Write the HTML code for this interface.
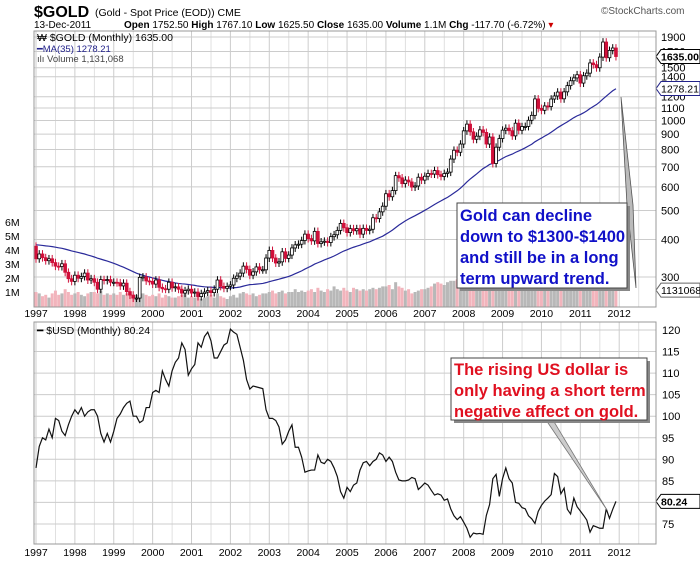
<!DOCTYPE html>
<html><head><meta charset="utf-8"><style>
body{margin:0;background:#fff;font-family:"Liberation Sans",sans-serif}
svg text{font-family:"Liberation Sans",sans-serif}
</style></head><body>
<svg id="c" width="700" height="561" viewBox="0 0 700 561">
<rect width="700" height="561" fill="#fff"/>
<g>
<text x="34" y="17" font-size="16" font-weight="bold">$GOLD</text>
<text x="95" y="16" font-size="10.5">(Gold - Spot Price (EOD)) CME</text>
<text x="601" y="14" font-size="10" fill="#555">©StockCharts.com</text>
<text x="34" y="28" font-size="10">13-Dec-2011</text>
<text x="124" y="28" font-size="10"><tspan font-weight="bold">Open</tspan> 1752.50 <tspan font-weight="bold">High</tspan> 1767.10 <tspan font-weight="bold">Low</tspan> 1625.50 <tspan font-weight="bold">Close</tspan> 1635.00 <tspan font-weight="bold">Volume</tspan> 1.1M <tspan font-weight="bold">Chg</tspan> -117.70 (-6.72%) <tspan fill="#c00">▾</tspan></text>
</g>
<g id="grid"></g>
<g id="marks"></g>
<rect x="34" y="31" width="622" height="276" fill="none" stroke="#999"/>
<rect x="34" y="322" width="622" height="222" fill="none" stroke="#999"/>
<g>
<text x="37" y="41" font-size="10.5">₩ $GOLD (Monthly) 1635.00</text>
<text x="37" y="52" font-size="9.5" fill="#22228a">━MA(35) 1278.21</text>
<text x="37" y="62" font-size="9.5" fill="#444">ılı Volume 1,131,068</text>
</g>
<text x="37" y="334" font-size="10.5">━ $USD (Monthly) 80.24</text>
<g>
<polygon points="621,97 627,205 636,288 633,205" fill="#bbb" stroke="#555" stroke-width="0.8"/>
<rect x="460" y="206" width="170" height="85" fill="#888"/>
<rect x="457" y="203" width="170" height="85" fill="#fff" stroke="#444"/>
<text font-size="16.5" font-weight="bold" fill="#1010c8"><tspan x="460" y="221">Gold can decline</tspan><tspan x="460" y="242">down to $1300-$1400</tspan><tspan x="460" y="263">and still be in a long</tspan><tspan x="460" y="284">term upward trend.</tspan></text>
</g>
<g>
<polygon points="546,420 607,510 553,420" fill="#ccc" stroke="#777" stroke-width="0.8"/>
<rect x="454" y="361" width="196" height="62" fill="#888"/>
<rect x="451" y="358" width="196" height="62" fill="#fff" stroke="#444"/>
<text font-size="16.5" font-weight="bold" fill="#e01020"><tspan x="454" y="375">The rising US dollar is</tspan><tspan x="454" y="396">only having a short term</tspan><tspan x="454" y="417">negative affect on gold.</tspan></text>
</g>
</svg>
<script>
const years=[1997,1998,1999,2000,2001,2002,2003,2004,2005,2006,2007,2008,2009,2010,2011,2012];
const goldTicks=[1900,1700,1500,1400,1200,1100,1000,900,800,700,600,500,400,300];
const usdTicks=[120,115,110,105,100,95,90,85,80,75];
const volTicks=[1,2,3,4,5,6];
const goldPre=[387,383,391,376,377,381,388,385,393,383,384,376,375,377,382,389,385,387,383,383,384,383,387,387,405,401,396,391,391,382,385,387,379,380];
const goldClose=[345,358,348,340,345,335,326,325,332,311,296,290,
304,297,301,309,293,296,288,273,294,292,294,288,
288,287,280,286,268,261,255,255,299,300,291,290,
284,293,277,274,273,288,276,278,273,265,270,273,
265,267,258,264,267,270,266,273,293,279,275,279,
282,297,302,309,326,318,304,312,324,317,317,347,
368,347,334,337,364,346,355,375,384,386,397,417,
403,396,426,388,393,395,391,409,415,429,453,438,
422,435,428,435,417,436,429,433,473,470,495,517,
569,556,583,654,643,615,632,623,599,604,646,632,
651,665,662,680,659,650,665,672,743,795,783,834,
923,972,916,865,886,930,912,834,880,718,814,870,
928,942,924,888,979,927,954,955,1001,1040,1180,1097,
1081,1118,1113,1179,1207,1244,1181,1246,1307,1357,1387,1421,
1333,1410,1439,1556,1536,1500,1628,1828,1620,1714,1746,1635];
const goldVolM=[1.0,0.9,0.7,0.8,0.6,0.9,1.1,0.8,0.9,1.2,1.0,0.8,
0.9,1.0,0.8,0.7,0.9,1.0,1.0,0.9,1.1,0.8,0.9,0.8,
0.9,0.8,1.0,0.8,0.9,1.0,0.7,0.8,1.1,0.9,0.8,0.7,
0.8,0.7,0.9,0.6,0.8,0.7,0.6,0.6,0.7,0.8,0.9,0.6,
0.7,0.6,0.8,0.5,0.6,0.7,0.8,0.6,0.9,0.7,0.6,0.5,
0.7,0.8,0.6,0.9,1.0,0.9,0.8,0.9,0.7,0.8,0.9,0.9,
1.0,1.1,0.9,1.0,1.1,0.9,1.0,1.0,1.2,1.0,1.1,1.0,
1.1,1.2,1.0,1.3,1.1,1.0,1.2,1.1,1.4,1.2,1.1,1.3,
1.1,1.0,1.3,1.2,1.1,1.2,1.1,1.2,1.3,1.2,1.3,1.4,
1.4,1.5,1.2,1.7,1.4,1.3,1.1,1.2,0.9,1.0,1.1,1.2,
1.2,1.3,1.4,1.6,1.7,1.6,1.5,1.7,1.8,1.8,1.9,1.7,
1.8,1.9,1.7,1.6,1.7,1.8,1.7,1.6,1.8,1.7,1.7,1.6,
1.5,1.6,1.5,1.4,1.5,1.6,1.4,1.5,1.5,1.4,1.6,1.5,
1.4,1.5,1.3,1.4,1.6,1.5,1.4,1.5,1.3,1.4,1.5,1.4,
1.3,1.4,1.3,1.5,1.4,1.3,1.4,1.6,1.5,1.4,1.3,1.1];
const usd=[88,93,95,94.5,97,95,99.5,99,96.5,95.5,98,100,
101.5,100.5,102,100,101,101.5,101.5,100,96,94,96,94,
96.5,99.5,100.5,102,103,103.5,100,100,98.5,99,102,102,
105.5,106,105.5,110.5,108.5,107,110.5,112.5,113.5,117,115.5,109.5,
111,112,117,116,118.5,119.5,117.5,113.5,113.5,115,116.5,117,
120.2,119.5,119,116,113,108.5,106.3,107,106.8,106.6,106.4,101.5,
99.5,99.5,99,97.5,93.5,94.5,96.5,98,92.8,92.8,90.5,87,
87.3,87.5,87.5,91,89.3,89,90,89.5,88,86,82.5,81,
83.5,82.5,84,84.5,87.5,89.2,89.5,88.5,89.5,90,91.5,91,
89.5,90.5,89.5,87,85.2,85,85,85.2,85.8,85.5,83,83.7,
84.5,84,82.8,81.7,82,81.7,80.5,80.8,78.5,76.9,76,76.7,
75.4,74,71.9,72.9,72.7,72.8,72.6,77,79.5,85.5,86.5,81.4,
85.5,88,85.5,84.5,80,79.8,78.8,78.5,76.9,76.2,75.1,77.9,
79.3,80.3,81,81.8,86.7,86,82,83.3,78.4,77.3,81,79,
78,77,75.9,73.1,74.6,74.3,74,74,78.5,76.3,78.4,80.24];

const NS='http://www.w3.org/2000/svg';
const X0=36,PX_M=3.24;
function xM(m){return X0+m*PX_M;}
function xY(y){return xM((y-1997)*12);}
function yG(p){return 37+Math.log(1900/p)*130;}
function yU(v){return 330+(120-v)*4.31;}
function yV(v){return 306-v*14;}
const grid=document.getElementById('grid'),marks=document.getElementById('marks');
function mk(tag,at,par){const e=document.createElementNS(NS,tag);for(const k in at)e.setAttribute(k,at[k]);(par||marks).appendChild(e);return e;}

years.forEach(y=>{
  const x=xY(y);
  const l1=mk('line',{x1:x,x2:x,y1:31,y2:307,stroke:'#ccc'},grid);
  
  
  const l2=mk('line',{x1:x,x2:x,y1:322,y2:544,stroke:'#ccc'},grid);
  
  
  const h=x+19.5;
  if(h<656){mk('line',{x1:h,x2:h,y1:31,y2:307,stroke:'#e0e0e0'},grid);mk('line',{x1:h,x2:h,y1:322,y2:544,stroke:'#e0e0e0'},grid);}
  const t1=mk('text',{x:x,y:317,'font-size':10.5,'text-anchor':'middle'},grid);t1.textContent=y;
  
  
  const t2=mk('text',{x:x,y:556,'font-size':10.5,'text-anchor':'middle'},grid);t2.textContent=y;
  
  
});
goldTicks.forEach(p=>{
  const y=yG(p);
  mk('line',{x1:34,x2:656,y1:y,y2:y,stroke:'#ccc'},grid);
  const t=mk('text',{x:661,y:y+4,'font-size':11},grid);t.textContent=p;
  
  
});
usdTicks.forEach(v=>{
  const y=yU(v);
  mk('line',{x1:34,x2:656,y1:y,y2:y,stroke:'#ccc'},grid);
  if(v!==80){const t=mk('text',{x:662,y:y+4,'font-size':11},grid);t.textContent=v;
  
  }
});
volTicks.forEach(v=>{
  const t=mk('text',{x:5,y:yV(v)+4,'font-size':10.5},grid);t.textContent=v+'M';
  
  
});

goldClose.forEach((c,i)=>{
  const o=i?goldClose[i-1]:goldPre[goldPre.length-1];
  const x=xM(i),y=yV(goldVolM[i]);
  const b=mk('rect',{x:x-1.5,y:y,width:3,height:307-y,fill:c>=o?'#b8b8b8':'#f2b4bc'});
  
  
});
const all=goldPre.concat(goldClose);let maPts=[];
goldClose.forEach((c,i)=>{let s=0;for(let k=0;k<35;k++)s+=all[i+goldPre.length-k];maPts.push(xM(i)+','+yG(s/35));});
const ma=mk('polyline',{points:maPts.join(' '),fill:'none',stroke:'#2a2a9a','stroke-width':1.2});


goldClose.forEach((c,i)=>{
  const o=i?goldClose[i-1]:goldPre[goldPre.length-1];
  const x=xM(i),up=c>=o;
  const hi=Math.max(o,c)*1.03,lo=Math.min(o,c)*0.97;
  const col=up?'#000':'#d0103a';
  const w=mk('line',{x1:x,x2:x,y1:yG(hi),y2:yG(lo),stroke:col,'stroke-width':1});
  
  
  const yt=yG(Math.max(o,c)),yb=yG(Math.min(o,c));
  const r=mk('rect',{x:x-1.4,y:yt,width:2.8,height:Math.max(1,yb-yt),fill:up?'#fff':'#d0103a',stroke:col,'stroke-width':0.8});
  
  
});
const up=mk('polyline',{points:usd.map((v,i)=>xM(i)+','+yU(v)).join(' '),fill:'none',stroke:'#111','stroke-width':1.2});



function tag(y,txt,col,bold,name){
  const g=mk('g',{});
  
  
  mk('polygon',{points:`656,${y} 661,${y-7} 700,${y-7} 700,${y+7} 661,${y+7}`,fill:'#fff',stroke:col},g);
  const t=mk('text',{x:661,y:y+4,'font-size':10.5,'font-weight':bold?'bold':'normal',fill:'#000'},g);t.textContent=txt;
}
tag(yG(1635),'1635.00','#000',true,'gold-last-price-tag');
tag(yG(1278.21),'1278.21','#22228a',false,'ma-last-value-tag');
tag(yV(1.131),'1131068','#666',false,'volume-last-value-tag');
tag(yU(80.24),'80.24','#000',true,'usd-last-value-tag');
</script>
</body></html>
